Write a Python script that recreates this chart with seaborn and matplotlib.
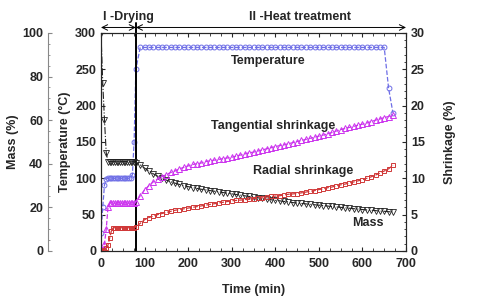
import matplotlib.pyplot as plt
import seaborn as sns
import pandas as pd
from matplotlib.ticker import MultipleLocator

# time axis (min): drying phase then heat treatment
time_dry = [0, 4, 8, 12, 16, 20, 24, 28, 32, 36, 40, 44, 48, 52, 56, 60, 64, 68, 72, 76, 80]
time_heat = [90, 100, 110, 120, 130, 140, 150, 160, 170, 180,
             190, 200, 210, 220, 230, 240, 250, 260, 270, 280,
             290, 300, 310, 320, 330, 340, 350, 360, 370, 380,
             390, 400, 410, 420, 430, 440, 450, 460, 470, 480,
             490, 500, 510, 520, 530, 540, 550, 560, 570, 580,
             590, 600, 610, 620, 630, 640, 650, 660, 670]

temp_dry = [25, 60, 91, 99, 100, 100, 100, 100, 100, 100, 100, 100, 100, 100, 100, 100, 100, 101, 105, 150, 250]
temp_heat = [280, 280, 280, 280, 280, 280, 280, 280, 280, 280,
             280, 280, 280, 280, 280, 280, 280, 280, 280, 280,
             280, 280, 280, 280, 280, 280, 280, 280, 280, 280,
             280, 280, 280, 280, 280, 280, 280, 280, 280, 280,
             280, 280, 280, 280, 280, 280, 280, 280, 280, 280,
             280, 280, 280, 280, 280, 280, 280, 224, 190]

mass_dry = [100, 77, 60, 45, 41, 41, 41, 41, 41, 41, 41, 41, 41, 41, 41, 41, 41, 41, 41, 41, 40.5]
mass_heat = [39.5, 38.0, 36.6, 35.4, 34.3, 33.3, 32.5, 31.7, 31.1, 30.5,
             30.0, 29.5, 29.1, 28.7, 28.3, 28.0, 27.7, 27.4, 27.1, 26.8,
             26.5, 26.2, 25.9, 25.6, 25.3, 25.0, 24.7, 24.4, 24.1, 23.8,
             23.5, 23.2, 23.0, 22.7, 22.5, 22.2, 22.0, 21.8, 21.6, 21.4,
             21.2, 21.0, 20.8, 20.6, 20.4, 20.2, 20.0, 19.8, 19.6, 19.4,
             19.2, 19.0, 18.8, 18.7, 18.5, 18.3, 18.2, 18.0, 17.9]

tang_dry = [0, 0.3, 1.0, 3.0, 6.0, 6.6, 6.6, 6.6, 6.6, 6.6, 6.6, 6.6, 6.6, 6.6, 6.6, 6.6, 6.6, 6.6, 6.6, 6.6, 6.7]
tang_heat = [7.6, 8.4, 9.0, 9.5, 9.9, 10.2, 10.5, 10.8, 11.0, 11.3,
             11.5, 11.7, 11.9, 12.0, 12.1, 12.3, 12.4, 12.5, 12.6, 12.7,
             12.8, 12.9, 13.05, 13.2, 13.35, 13.5, 13.6, 13.75, 13.9, 14.05,
             14.2, 14.35, 14.5, 14.6, 14.75, 14.9, 15.05, 15.2, 15.35, 15.5,
             15.65, 15.8, 15.95, 16.1, 16.3, 16.5, 16.7, 16.85, 17.0, 17.15,
             17.3, 17.45, 17.6, 17.8, 18.0, 18.15, 18.35, 18.5, 18.7]

rad_dry = [0, 0, 0.2, 0.4, 0.8, 1.8, 2.8, 3.2, 3.2, 3.2, 3.2, 3.2, 3.2, 3.2, 3.2, 3.2, 3.2, 3.2, 3.2, 3.2, 3.3]
rad_heat = [3.8, 4.3, 4.6, 4.8, 5.0, 5.15, 5.3, 5.45, 5.6, 5.7,
            5.8, 5.9, 6.0, 6.1, 6.2, 6.3, 6.4, 6.5, 6.6, 6.7,
            6.8, 6.9, 6.95, 7.0, 7.05, 7.1, 7.2, 7.25, 7.3, 7.4,
            7.5, 7.55, 7.6, 7.7, 7.8, 7.85, 7.9, 8.0, 8.1, 8.2,
            8.3, 8.45, 8.55, 8.7, 8.8, 8.95, 9.1, 9.2, 9.35, 9.5,
            9.65, 9.8, 10.0, 10.2, 10.45, 10.7, 11.0, 11.3, 11.8]

df = pd.DataFrame({
    'time': time_dry + time_heat,
    'temp': temp_dry + temp_heat,
    'mass': mass_dry + mass_heat,
    'tang': tang_dry + tang_heat,
    'rad': rad_dry + rad_heat,
})

sns.set_style("ticks")
plt.rcParams['font.family'] = ['Liberation Sans', 'DejaVu Sans']
plt.rcParams['font.weight'] = 'bold'
plt.rcParams['axes.labelweight'] = 'bold'
plt.rcParams['xtick.direction'] = 'in'
plt.rcParams['ytick.direction'] = 'in'

fig = plt.figure(figsize=(4.91, 3.02), dpi=100)
ax = fig.add_axes([0.2057, 0.169, 0.6212, 0.722])
ax_m = ax.twinx()
ax_s = ax.twinx()

c_temp = '#6e6ee6'
c_tang = '#cc33ee'
c_rad = '#d03838'
c_mass = '#222222'

sns.lineplot(data=df, x='time', y='temp', ax=ax, color=c_temp, marker='o', markersize=3.5,
             mfc='none', mec=c_temp, mew=0.7, linestyle='--', lw=0.9, sort=False, estimator=None)
sns.lineplot(data=df, x='time', y='mass', ax=ax_m, color=c_mass, marker='v', markersize=4,
             mfc='none', mec=c_mass, mew=0.6, linestyle='-.', lw=0.8, sort=False, estimator=None)
sns.lineplot(data=df, x='time', y='tang', ax=ax_s, color=c_tang, marker='^', markersize=4,
             mfc='none', mec=c_tang, mew=0.7, linestyle='--', lw=0.9, sort=False, estimator=None)
sns.lineplot(data=df, x='time', y='rad', ax=ax_s, color=c_rad, marker='s', markersize=3.5,
             mfc='none', mec=c_rad, mew=0.7, linestyle='--', lw=0.9, sort=False, estimator=None)

fs = 9
ax.set_xlim(0, 700)
ax.set_ylim(0, 300)
ax.xaxis.set_major_locator(MultipleLocator(100))
ax.xaxis.set_minor_locator(MultipleLocator(25))
ax.yaxis.set_major_locator(MultipleLocator(50))
ax.tick_params(which='both', top=True, labelsize=fs)
ax.tick_params(axis='x', pad=5)
ax.tick_params(which='major', length=3)
ax.tick_params(which='minor', length=2)
ax.set_xlabel('Time (min)', fontsize=fs, labelpad=10)
ax.set_ylabel('Temperature (°C)', fontsize=fs, labelpad=3)

ax_m.set_ylim(0, 100)
ax_m.spines['left'].set_position(('axes', -0.174))
ax_m.spines['left'].set_visible(True)
ax_m.spines['left'].set_color('#888888')
ax_m.spines['right'].set_visible(False)
ax_m.spines['top'].set_visible(False)
ax_m.spines['bottom'].set_visible(False)
ax_m.yaxis.set_ticks_position('left')
ax_m.yaxis.set_label_position('left')
ax_m.yaxis.set_major_locator(MultipleLocator(20))
ax_m.yaxis.set_minor_locator(MultipleLocator(5))
ax_m.tick_params(which='both', labelsize=fs, color='#888888')
ax_m.tick_params(which='major', length=3)
ax_m.tick_params(which='minor', length=1.5)
ax_m.set_ylabel('Mass (%)', fontsize=fs, labelpad=2)

ax_s.set_ylim(0, 30)
ax_s.yaxis.set_major_locator(MultipleLocator(5))
ax_s.yaxis.set_minor_locator(MultipleLocator(1))
ax_s.tick_params(which='both', labelsize=fs)
ax_s.tick_params(which='major', length=3)
ax_s.tick_params(which='minor', length=1.5)
ax_s.set_ylabel('Shrinkage (%)', fontsize=fs, labelpad=14)

for a in (ax, ax_s):
    for sp in a.spines.values():
        sp.set_linewidth(0.8)

# stage divider and arrows
ax.plot([80, 80], [0, 1.045], color='black', lw=1.4, transform=ax.get_xaxis_transform(), clip_on=False)
ax.annotate('', xy=(0, 1.025), xytext=(80, 1.025), xycoords=('data', 'axes fraction'),
            textcoords=('data', 'axes fraction'), annotation_clip=False,
            arrowprops=dict(arrowstyle='<->', lw=0.7, color='black', shrinkA=0, shrinkB=0))
ax.annotate('', xy=(700, 1.025), xytext=(80, 1.025), xycoords=('data', 'axes fraction'),
            textcoords=('data', 'axes fraction'), annotation_clip=False,
            arrowprops=dict(arrowstyle='<->', lw=0.7, color='black', shrinkA=0, shrinkB=0))
ax.text(62, 1.045, 'I -Drying', transform=ax.get_xaxis_transform(), ha='center', va='bottom', fontsize=fs)
ax.text(456, 1.045, 'II -Heat treatment', transform=ax.get_xaxis_transform(), ha='center', va='bottom', fontsize=fs)

# curve labels
ax_s.text(383, 26.1, 'Temperature', ha='center', va='center', fontsize=fs)
ax_s.text(395, 17.2, 'Tangential shrinkage', ha='center', va='center', fontsize=fs)
ax_s.text(463, 11.0, 'Radial shrinkage', ha='center', va='center', fontsize=fs)
ax_s.text(612, 3.85, 'Mass', ha='center', va='center', fontsize=fs)

fig.savefig('out.png', dpi=100)
